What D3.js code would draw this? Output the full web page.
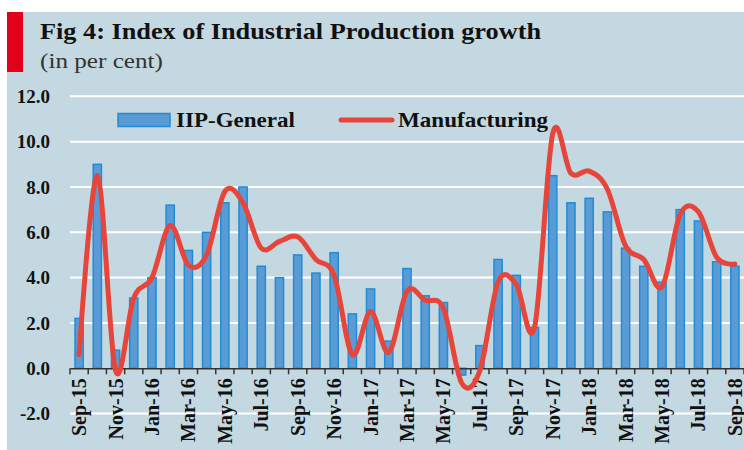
<!DOCTYPE html>
<html>
<head>
<meta charset="utf-8">
<script src="https://cdn.jsdelivr.net/npm/d3@7"></script>
<style>
  body { margin: 0; background: #fff; }
  svg { display: block; }
  text { font-family: "Liberation Serif", "DejaVu Serif", serif; fill: #111; }
</style>
</head>
<body>
<div id="viz"></div>
<script>
// monthly categories Sep-15 .. Sep-18
var months = ["Sep-15","Oct-15","Nov-15","Dec-15","Jan-16","Feb-16","Mar-16","Apr-16","May-16","Jun-16",
              "Jul-16","Aug-16","Sep-16","Oct-16","Nov-16","Dec-16","Jan-17","Feb-17","Mar-17","Apr-17",
              "May-17","Jun-17","Jul-17","Aug-17","Sep-17","Oct-17","Nov-17","Dec-17","Jan-18","Feb-18",
              "Mar-18","Apr-18","May-18","Jun-18","Jul-18","Aug-18","Sep-18"];

var iipGeneral = [2.2, 9.0, 0.8, 3.1, 4.0, 7.2, 5.2, 6.0, 7.3, 8.0,
                  4.5, 4.0, 5.0, 4.2, 5.1, 2.4, 3.5, 1.2, 4.4, 3.2,
                  2.9, -0.3, 1.0, 4.8, 4.1, 1.8, 8.5, 7.3, 7.5, 6.9,
                  5.3, 4.5, 3.8, 7.0, 6.5, 4.7, 4.5];

var manufacturing = [0.6, 8.5, -0.1, 3.1, 4.0, 6.3, 4.55, 5.0, 7.8, 7.3,
                     5.3, 5.6, 5.8, 4.8, 4.1, 0.6, 2.5, 0.7, 3.4, 3.0,
                     2.65, -0.65, -0.1, 3.8, 3.7, 1.8, 10.35, 8.6, 8.7, 7.9,
                     5.4, 4.8, 3.6, 6.8, 6.9, 4.9, 4.6];

var yTicks = [-2, 0, 2, 4, 6, 8, 10, 12];
// only every second month is labelled
var xLabels = months.filter(function(d, i) { return i % 2 === 0; });

var W = 744, H = 450,
    left = 70, right = 744,
    red = "#e8453a";

var svg = d3.select('#viz').append('svg')
    .attr('width', W)
    .attr('height', H);

// panel background + red marker
svg.append('rect')
    .attr('x', 7).attr('y', 12)
    .attr('width', W - 7).attr('height', H - 12)
    .attr('fill', '#c4d8e2');
svg.append('rect')
    .attr('x', 7).attr('y', 12)
    .attr('width', 16).attr('height', 60)
    .attr('fill', '#e2001a');

svg.append('text')
    .attr('x', 40).attr('y', 39)
    .attr('textLength', 501)
    .attr('lengthAdjust', 'spacingAndGlyphs')
    .style('font-size', '24px')
    .style('font-weight', 'bold')
    .text('Fig 4: Index of Industrial Production growth');
svg.append('text')
    .attr('x', 40).attr('y', 68)
    .attr('textLength', 123)
    .attr('lengthAdjust', 'spacingAndGlyphs')
    .style('font-size', '22px')
    .style('fill', '#333')
    .text('(in per cent)');

var x = d3.scaleBand()
    .domain(months)
    .range([left, right])
    .paddingInner(0.55)
    .paddingOuter(0.275);

var xStep = d3.scaleBand().domain(months).range([left, right]); // for ticks at boundaries

var y = d3.scaleLinear()
    .domain([-2, 12])
    .range([413.6, 96.3]);

// gridlines
svg.append('g')
    .selectAll('line').data(yTicks.filter(function(d) { return d !== 0; }))
    .enter().append('line')
        .attr('x1', left).attr('x2', right)
        .attr('y1', function(d) { return y(d); })
        .attr('y2', function(d) { return y(d); })
        .attr('stroke', '#fff')
        .attr('stroke-width', 2);

// y labels
svg.append('g')
    .selectAll('text').data(yTicks)
    .enter().append('text')
        .attr('x', 50)
        .attr('y', function(d) { return y(d); })
        .attr('dy', '0.35em')
        .attr('text-anchor', 'end')
        .style('font-size', '19px')
        .style('font-weight', 'bold')
        .text(function(d) { return d.toFixed(1); });

// bars
svg.append('g')
    .selectAll('rect').data(iipGeneral)
    .enter().append('rect')
        .attr('x', function(d, i) { return x(months[i]); })
        .attr('width', x.bandwidth())
        .attr('y', function(d) { return y(Math.max(0, d)); })
        .attr('height', function(d) { return Math.abs(y(d) - y(0)); })
        .attr('fill', '#5b9bd5')
        .attr('stroke', '#1f8dd6')
        .attr('stroke-width', 1.5);

// x axis at zero
var xAxis = d3.axisBottom(xStep).tickSize(0).tickFormat('');
var axisG = svg.append('g')
    .attr('transform', 'translate(0,' + y(0) + ')')
    .call(xAxis);
axisG.select('.domain').attr('stroke', '#333').attr('stroke-width', 1.5);

svg.append('g')
    .selectAll('line').data(d3.range(months.length + 1))
    .enter().append('line')
        .attr('x1', function(i) { return left + i * xStep.step(); })
        .attr('x2', function(i) { return left + i * xStep.step(); })
        .attr('y1', y(0)).attr('y2', y(0) + 6)
        .attr('stroke', '#333')
        .attr('stroke-width', 1.5);

// rotated month labels
svg.append('g')
    .selectAll('text').data(xLabels)
    .enter().append('text')
        .attr('transform', function(d) {
            return 'translate(' + (x(d) + x.bandwidth() / 2) + ',' + (y(0) + 10) + ') rotate(-90)';
        })
        .attr('dy', '0.35em')
        .attr('text-anchor', 'end')
        .style('font-size', '20px')
        .style('font-weight', 'bold')
        .text(function(d) { return d; });

// manufacturing line
var line = d3.line()
    .x(function(d, i) { return x(months[i]) + x.bandwidth() / 2; })
    .y(function(d) { return y(d); })
    .curve(d3.curveCatmullRom.alpha(0));

svg.append('path')
    .datum(manufacturing)
    .attr('d', line)
    .attr('fill', 'none')
    .attr('stroke', red)
    .attr('stroke-width', 5)
    .attr('stroke-linecap', 'round')
    .attr('stroke-linejoin', 'round');

// legend
var legend = svg.append('g');
legend.append('rect')
    .attr('x', 118).attr('y', 113.5)
    .attr('width', 52).attr('height', 13)
    .attr('fill', '#5b9bd5')
    .attr('stroke', '#1f8dd6')
    .attr('stroke-width', 1.5);
legend.append('text')
    .attr('x', 176).attr('y', 127)
    .attr('textLength', 119)
    .attr('lengthAdjust', 'spacingAndGlyphs')
    .style('font-size', '21px')
    .style('font-weight', 'bold')
    .text('IIP-General');
legend.append('line')
    .attr('x1', 341).attr('x2', 392)
    .attr('y1', 120).attr('y2', 120)
    .attr('stroke', red)
    .attr('stroke-width', 5)
    .attr('stroke-linecap', 'round');
legend.append('text')
    .attr('x', 398).attr('y', 127)
    .attr('textLength', 150)
    .attr('lengthAdjust', 'spacingAndGlyphs')
    .style('font-size', '21px')
    .style('font-weight', 'bold')
    .text('Manufacturing');
</script>
</body>
</html>
